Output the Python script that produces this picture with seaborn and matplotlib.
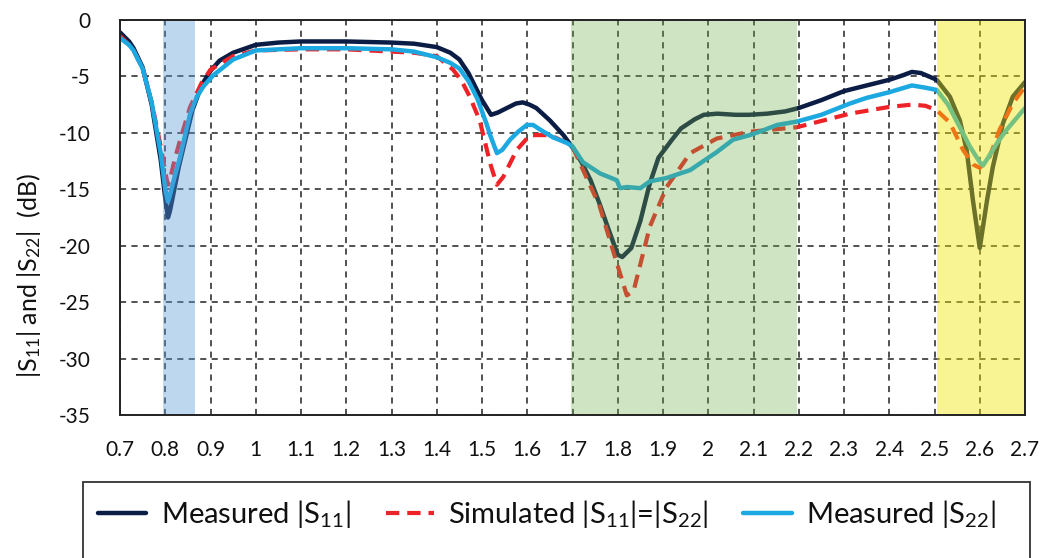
import numpy as np
import pandas as pd
import matplotlib
matplotlib.use("Agg")
import matplotlib.pyplot as plt
from matplotlib.patches import Rectangle
import seaborn as sns

# ---- data ----
navy_f = [0.70, 0.72, 0.73, 0.75, 0.77, 0.79, 0.80, 0.806, 0.81, 0.82, 0.83, 0.845, 0.86, 0.88,
          0.90, 0.92, 0.95, 1.00, 1.05, 1.10, 1.20, 1.30, 1.35, 1.40, 1.43, 1.45, 1.47, 1.50,
          1.52, 1.535, 1.555, 1.575, 1.59, 1.605, 1.62, 1.65, 1.68, 1.70, 1.72, 1.74, 1.76,
          1.78, 1.80, 1.81, 1.83, 1.85, 1.87, 1.89, 1.92, 1.94, 1.97, 1.99, 2.02, 2.06, 2.09,
          2.13, 2.17, 2.20, 2.25, 2.30, 2.35, 2.40, 2.43, 2.45, 2.47, 2.505, 2.534, 2.556,
          2.571, 2.585, 2.60, 2.616, 2.629, 2.651, 2.673, 2.70]
navy_v = [-1.1, -1.9, -2.5, -4.2, -7.5, -12.4, -15.8, -17.5, -17.0, -15.0, -13.0, -10.5, -8.0, -5.8,
          -4.5, -3.6, -2.9, -2.2, -2.0, -1.9, -1.9, -2.0, -2.1, -2.4, -2.9, -3.5, -4.7, -7.1,
          -8.4, -8.2, -7.8, -7.4, -7.3, -7.5, -7.8, -8.9, -10.2, -11.3, -12.6, -14.2, -16.3,
          -18.6, -20.8, -21.0, -20.2, -17.8, -14.6, -12.2, -10.6, -9.6, -8.8, -8.4, -8.3, -8.4, -8.4,
          -8.3, -8.1, -7.8, -7.1, -6.3, -5.8, -5.3, -4.9, -4.6, -4.7, -5.3, -6.8, -8.9,
          -11.5, -16.0, -20.2, -16.0, -13.0, -9.2, -6.8, -5.5]

sim_f = [0.70, 0.72, 0.73, 0.75, 0.77, 0.79, 0.80, 0.806, 0.81, 0.82, 0.833, 0.855, 0.88, 0.90,
         0.95, 1.00, 1.10, 1.20, 1.30, 1.35, 1.40, 1.436, 1.455, 1.473, 1.495, 1.518, 1.533,
         1.547, 1.577, 1.606, 1.65, 1.688, 1.70, 1.72, 1.76, 1.79, 1.82, 1.835, 1.871, 1.908,
         1.96, 2.019, 2.092, 2.196, 2.313, 2.40, 2.45, 2.48, 2.505, 2.534, 2.563, 2.585, 2.60,
         2.622, 2.644, 2.673, 2.70]
sim_v = [-1.4, -2.2, -2.7, -4.3, -7.3, -11.2, -13.5, -14.6, -14.2, -12.5, -10.6, -7.7, -5.6, -4.4,
         -3.2, -2.7, -2.6, -2.6, -2.8, -2.9, -3.2, -4.4, -5.4, -6.8, -8.9, -12.7, -14.6,
         -13.9, -11.5, -10.2, -10.2, -10.9, -11.2, -13.0, -16.5, -20.5, -24.4, -24.0, -18.3, -14.8,
         -11.8, -10.5, -9.9, -9.5, -8.3, -7.7, -7.5, -7.6, -8.0, -9.1, -11.5, -12.8, -13.1,
         -12.1, -9.7, -7.4, -5.9]

s22_f = [0.70, 0.72, 0.73, 0.75, 0.77, 0.79, 0.80, 0.806, 0.81, 0.82, 0.833, 0.845, 0.855, 0.87,
         0.884, 0.906, 0.95, 1.00, 1.10, 1.20, 1.30, 1.35, 1.40, 1.43, 1.45, 1.47, 1.49, 1.51,
         1.518, 1.533, 1.545, 1.562, 1.58, 1.599, 1.613, 1.628, 1.657, 1.688, 1.70, 1.723,
         1.761, 1.798, 1.805, 1.82, 1.85, 1.871, 1.908, 1.93, 1.96, 1.982, 2.019, 2.055, 2.092,
         2.12, 2.152, 2.196, 2.25, 2.313, 2.35, 2.40, 2.45, 2.48, 2.505, 2.53, 2.556, 2.578,
         2.60, 2.607, 2.62, 2.64, 2.66, 2.70]
s22_v = [-1.6, -2.2, -2.7, -4.3, -7.3, -11.8, -15.0, -16.1, -15.6, -14.0, -12.1, -10.0, -8.3, -6.8,
         -5.9, -4.9, -3.5, -2.7, -2.5, -2.5, -2.6, -2.8, -3.3, -3.8, -4.3, -5.4, -7.0, -9.2,
         -10.2, -11.8, -11.5, -10.6, -9.9, -9.3, -9.3, -9.7, -10.4, -10.9, -11.2, -12.6,
         -13.6, -14.2, -14.9, -14.8, -14.9, -14.3, -14.0, -13.7, -13.3, -12.7, -11.7, -10.6, -10.2,
         -9.8, -9.3, -9.0, -8.4, -7.4, -6.9, -6.4, -5.8, -6.0, -6.2, -7.5, -9.5, -11.2,
         -12.6, -12.9, -12.1, -10.8, -9.7, -7.8]

x_ticks = [0.7, 0.8, 0.9, 1.0, 1.1, 1.2, 1.3, 1.4, 1.5, 1.6, 1.7, 1.8, 1.9, 2.0, 2.1, 2.2,
           2.3, 2.4, 2.5, 2.6, 2.7]
x_tick_labels = ["0.7", "0.8", "0.9", "1", "1.1", "1.2", "1.3", "1.4", "1.5", "1.6", "1.7",
                 "1.8", "1.9", "2", "2.1", "2.2", "2.3", "2.4", "2.5", "2.6", "2.7"]
y_ticks = [-35, -30, -25, -20, -15, -10, -5, 0]

bands = [(0.795, 0.866, "#5b9bd5", 0.40),
         (1.697, 2.196, "#70ad47", 0.33),
         (2.505, 2.70, "#f0e600", 0.42)]

# ---- style ----
sns.set_theme(style="white")
plt.rcParams['font.family'] = ['Lato', 'DejaVu Sans']
plt.rcParams['mathtext.fontset'] = 'custom'
plt.rcParams['mathtext.rm'] = 'Lato'
plt.rcParams['mathtext.it'] = 'Lato'
plt.rcParams['mathtext.default'] = 'rm'
plt.rcParams['axes.unicode_minus'] = False

fig = plt.figure(figsize=(10.42, 5.58), dpi=100)
ax = fig.add_axes([120 / 1042, 1 - 415 / 558, 905 / 1042, 395 / 558])

df_navy = pd.DataFrame({"f": navy_f, "v": navy_v})
df_sim = pd.DataFrame({"f": sim_f, "v": sim_v})
df_s22 = pd.DataFrame({"f": s22_f, "v": s22_v})

lab1 = r"Measured |S$_{11}$|"
lab2 = r"Simulated |S$_{11}$|=|S$_{22}$|"
lab3 = r"Measured |S$_{22}$|"

sns.lineplot(data=df_navy, x="f", y="v", ax=ax, color="#0c1d45", linewidth=3.2,
             label=lab1, zorder=3)
sns.lineplot(data=df_sim, x="f", y="v", ax=ax, color="#ee2227", linewidth=3.0,
             label=lab2, zorder=3.1)
ax.lines[-1].set_dashes((3.2, 1.9))
sns.lineplot(data=df_s22, x="f", y="v", ax=ax, color="#1ca8e0", linewidth=3.2,
             label=lab3, zorder=3.2)

for lo, hi, c, a in bands:
    ax.axvspan(lo, hi, color=c, alpha=a, lw=0, zorder=4)

ax.set_xlim(0.7, 2.7)
ax.set_ylim(-35, 0)
ax.set_xticks(x_ticks)
ax.set_xticklabels(x_tick_labels)
ax.set_yticks(y_ticks)
ax.grid(True, color="#222222", linestyle=(0, (4, 3.5)), linewidth=1.1)
ax.set_axisbelow(True)
for s in ax.spines.values():
    s.set_color("#222222")
    s.set_linewidth(1.4)
    s.set_zorder(5)
ax.tick_params(axis="x", labelsize=15, pad=18, length=0, colors="#111111")
ax.tick_params(axis="y", labelsize=15, pad=21, length=0, colors="#111111")
ax.set_xlabel("")
ax.set_ylabel(r"|S$_{11}$| and |S$_{22}$|  (dB)", fontsize=18, color="#111111", labelpad=14)
ax.yaxis.set_label_coords(-0.085, 0.352)

leg = ax.get_legend()
handles, labels = ax.get_legend_handles_labels()
leg.remove()
fig.legend(handles, labels, loc="center", bbox_to_anchor=(547 / 1042, 1 - 514 / 558),
           ncol=3, frameon=False, fontsize=21, handlelength=1.65, columnspacing=1.2,
           handletextpad=0.5, labelcolor="#111111")

fig.patches.append(Rectangle((83 / 1042, -0.1), (1030 - 83) / 1042, 0.1 + 1 - 482 / 558,
                             transform=fig.transFigure, fill=False, edgecolor="#333333",
                             linewidth=1.3))

fig.savefig("out.png", dpi=100)
